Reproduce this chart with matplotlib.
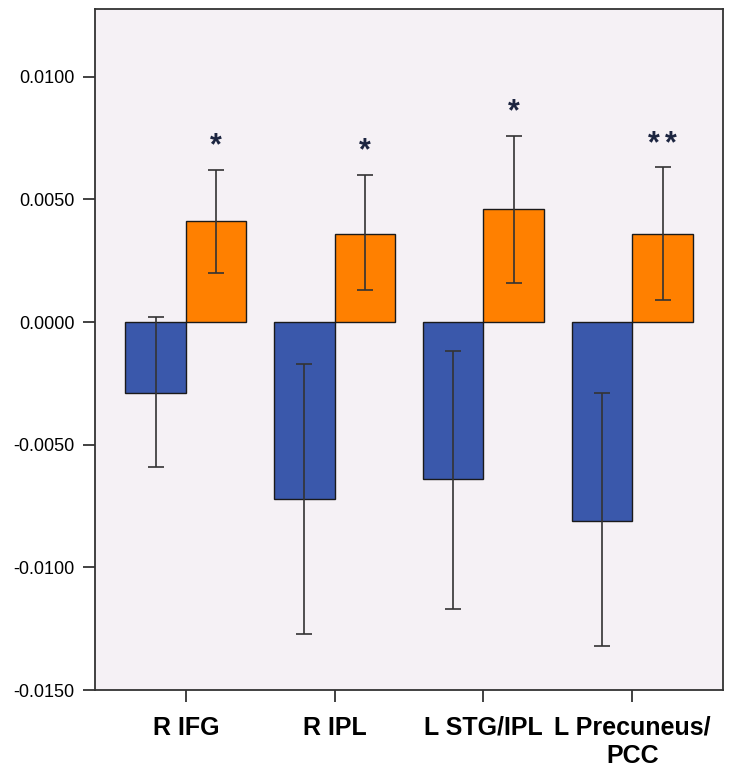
import numpy as np
import matplotlib.pyplot as plt

# regions and group values
regions = ["R IFG", "R IPL", "L STG/IPL", "L Precuneus/\nPCC"]
blue_vals = [-0.0029, -0.0072, -0.0064, -0.0081]
blue_lo = [-0.0059, -0.0127, -0.0117, -0.0132]
blue_hi = [0.0002, -0.0017, -0.0012, -0.0029]
orange_vals = [0.0041, 0.0036, 0.0046, 0.0036]
orange_lo = [0.0020, 0.0013, 0.0016, 0.0009]
orange_hi = [0.0062, 0.0060, 0.0076, 0.0063]
stars = ["*", "*", "*", "**"]
yticks = [-0.015, -0.010, -0.005, 0.0, 0.005, 0.010]

plt.rcParams["font.family"] = ["Liberation Sans", "DejaVu Sans"]

fig = plt.figure(figsize=(7.32, 7.69), dpi=100)
ax = fig.add_axes([0.1298, 0.1027, 0.8579, 0.8856])
ax.set_facecolor("#f5f1f5")

x = np.arange(len(regions))
w = 0.407
bv = np.array(blue_vals)
ov = np.array(orange_vals)
berr = [bv - np.array(blue_lo), np.array(blue_hi) - bv]
oerr = [ov - np.array(orange_lo), np.array(orange_hi) - ov]

ax.bar(x - w / 2, bv, w, color="#3a58ab", edgecolor="#1a1a1a", linewidth=1.0, zorder=2)
ax.bar(x + w / 2, ov, w, color="#ff8000", edgecolor="#1a1a1a", linewidth=1.0, zorder=2)
ax.errorbar(x - w / 2, bv, yerr=berr, fmt="none", ecolor="#333333",
            elinewidth=1.2, capsize=5.5, capthick=1.2, zorder=3)
ax.errorbar(x + w / 2, ov, yerr=oerr, fmt="none", ecolor="#333333",
            elinewidth=1.2, capsize=5.5, capthick=1.2, zorder=3)

# significance stars, each asterisk placed separately to get the wider spacing
for xi, top, s in zip(x, orange_hi, stars):
    n = len(s)
    for i in range(n):
        dx = (i - (n - 1) / 2) * 12
        ax.annotate("*", (xi + w / 2, top), xytext=(dx, 6), textcoords="offset points",
                    ha="center", va="bottom", fontsize=22, fontweight="bold",
                    color="#1c2540")

ax.set_xlim(-0.61, 3.61)
ax.set_ylim(-0.015, 0.01276)
ax.set_yticks(yticks)
ax.set_yticklabels([f"{v:.4f}" for v in yticks], fontsize=13)
ax.set_xticks(x)
ax.set_xticklabels(regions, fontsize=18, fontweight="bold")
ax.tick_params(axis="both", length=8.5, width=1.3, color="#333333")
ax.tick_params(axis="x", pad=10)
ax.tick_params(axis="y", pad=6)
for sp in ax.spines.values():
    sp.set_color("#333333")
    sp.set_linewidth(1.3)

fig.savefig("out.png", dpi=100)
